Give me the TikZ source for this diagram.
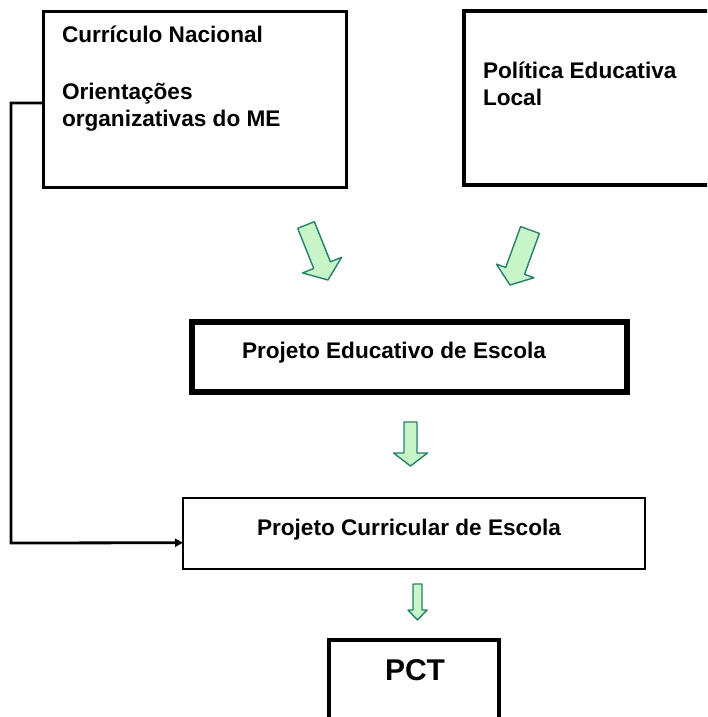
\documentclass[tikz,border=0pt]{standalone}
\usepackage{fontspec}
\setmainfont{Liberation Sans}
\usetikzlibrary{calc,arrows.meta}
\definecolor{gfill}{RGB}{200,245,200}
\definecolor{gedge}{RGB}{38,128,108}
% #1 tail, #2 tip, #3 shaft half width, #4 head half width, #5 head length
\newcommand\garrow[5]{%
  \path (#1) coordinate (gT) (#2) coordinate (gP);
  \path ($(gP)!#5!(gT)$) coordinate (gB);
  \filldraw[garrowstyle] ($(gT)!#3!90:(gP)$) -- ($(gB)!#3!-90:(gT)$) -- ($(gB)!#4!-90:(gT)$) -- (gP)
    -- ($(gB)!#4!90:(gT)$) -- ($(gB)!#3!90:(gT)$) -- ($(gT)!#3!-90:(gP)$) -- cycle;
}
\begin{document}
\begin{tikzpicture}[x=1pt,y=-1pt,
  box/.style={draw=black,rectangle,inner sep=0pt,outer sep=0pt},
  lbl/.style={anchor=base west,inner sep=0pt,outer sep=0pt,text=black,font=\fontsize{22.6}{27}\selectfont\bfseries},
  big/.style={lbl,font=\fontsize{30}{36}\selectfont\bfseries},
  conn/.style={line width=2.8pt,-{Triangle[length=8pt,width=8pt]}},
  garrowstyle/.style={fill=gfill,draw=gedge,line width=1.4pt,line join=round}]
\fill[white] (0,0) rectangle (707,717);
\useasboundingbox (0,0) rectangle (707,717);
\clip (0,0) rectangle (707,717);

% boxes
\node[box,line width=3pt,minimum width=303pt,minimum height=175pt] (cn) at (194.5,99.5) {};
\node[box,line width=3.5pt,minimum width=256pt,minimum height=174pt] (pel) at (592,98) {};
\node[box,line width=5.5pt,minimum width=435pt,minimum height=70pt] (pee) at (409.5,357) {};
\node[box,line width=2.5pt,minimum width=462pt,minimum height=71pt] (pce) at (414,533.5) {};
\node[box,line width=3.5pt,minimum width=170pt,minimum height=100pt] (pct) at (414,690) {};

% texts
\node[lbl] (t1) at (62,43) {Currículo Nacional};
\node[lbl] (t2) at (62,99) {Orientações};
\node[lbl] (t3) at (62,126) {organizativas do ME};
\node[lbl] (t4) at (483,78) {Política Educativa};
\node[lbl] (t5) at (483,105) {Local};
\node[lbl] (t6) at (242,358) {Projeto Educativo de Escola};
\node[lbl] (t7) at (257,535) {Projeto Curricular de Escola};
\node[big] (t8) at (385,680) {PCT};

% green block arrows
\coordinate (a1t) at (306,225); \coordinate (a1p) at (328,280);
\coordinate (a2t) at (530,230); \coordinate (a2p) at (510,285);
\coordinate (a3t) at (410.5,422); \coordinate (a3p) at (410.5,466);
\coordinate (a4t) at (417.5,584); \coordinate (a4p) at (417.5,620);
\garrow{a1t}{a1p}{9pt}{21pt}{16pt}
\garrow{a2t}{a2p}{10pt}{20pt}{15pt}
\garrow{a3t}{a3p}{6.5pt}{17pt}{13pt}
\garrow{a4t}{a4p}{4.5pt}{9.5pt}{10pt}

% connector
\coordinate (corner) at (11,543);
\draw[conn] ($(cn.north west)!0.52!(cn.south west)$) -| (corner) -- ($(pce.north west)!0.63!(pce.south west)$);
\end{tikzpicture}
\end{document}
